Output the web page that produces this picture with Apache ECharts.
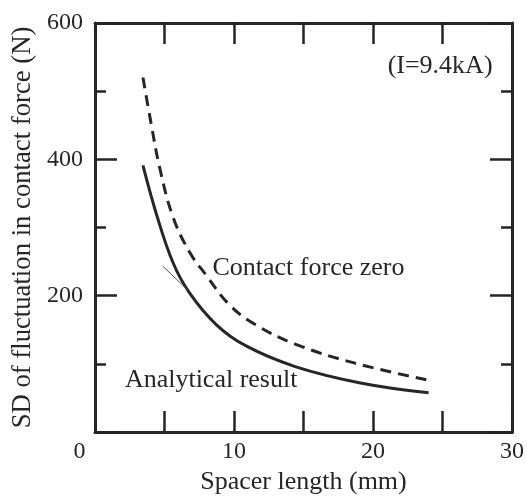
<!DOCTYPE html>
<html><head><meta charset="utf-8">
<script src="https://cdn.jsdelivr.net/npm/echarts@6/dist/echarts.min.js"></script>
<style>html,body{margin:0;padding:0;background:#fff}#c{width:527px;height:500px}</style>
</head><body><div id="c"></div>
<script>
var analyticalX = [3.45, 4.4, 5.6, 6.8, 8.7, 10.8, 14.4, 19.1, 24.0];
var analyticalY = [391, 321, 249, 204, 158, 127, 96, 72, 57.5];
var zeroX = [3.45, 4.05, 4.65, 5.6, 6.8, 8.0, 9.65, 11.5, 14.4, 18.7, 24.0];
var zeroY = [520, 451, 388, 316, 264, 230, 187, 158, 129, 101, 76];
var tangentX = [4.89, 6.68];
var tangentY = [243, 208];
var xTicks = [0, 10, 20, 30];
var yTicks = [200, 400, 600];
var labelZero = 'Contact force zero';
var labelAnalytical = 'Analytical result';
var labelCurrent = '(I=9.4kA)';

function pairs(xs, ys){ return xs.map(function(x,i){return [x, ys[i]];}); }
var ink = '#262626';
var font = 'Liberation Serif';
var chart = echarts.init(document.getElementById('c'));
var tickStyle = {color: ink, width: 2.5};
var lineSt = {show: true, onZero: false, lineStyle: {color: ink, width: 3}};
var option = {
  backgroundColor: '#fff',
  animation: false,
  grid: {left: 95, right: 13, top: 23, bottom: 61},
  xAxis: [{
    type: 'value', min: 0, max: 30, interval: 5, position: 'bottom',
    name: 'Spacer length (mm)', nameLocation: 'middle', nameGap: 37,
    nameTextStyle: {fontFamily: font, fontSize: 26, color: ink},
    axisLine: lineSt,
    axisTick: {show: true, inside: true, length: 21, lineStyle: tickStyle},
    splitLine: {show: false},
    axisLabel: {
      margin: 8, fontFamily: font, fontSize: 24, color: ink,
      formatter: function(v){
        if (xTicks.indexOf(v) < 0) return '';
        if (v === 0) return '{z|0}';
        return String(v);
      },
      rich: {z: {fontFamily: font, fontSize: 24, color: ink, padding: [0, 31, 0, 0]}}
    }
  }, {
    type: 'value', min: 0, max: 30, interval: 5, position: 'top',
    axisLine: lineSt,
    axisTick: {show: true, inside: true, length: 21, lineStyle: tickStyle},
    axisLabel: {show: false}, splitLine: {show: false}
  }],
  yAxis: [{
    type: 'value', min: 0, max: 600, interval: 200, position: 'left',
    name: 'SD of fluctuation in contact force (N)', nameLocation: 'middle', nameGap: 57,
    nameTextStyle: {fontFamily: font, fontSize: 26.7, color: ink},
    axisLine: lineSt,
    axisTick: {show: true, inside: true, length: 22, lineStyle: tickStyle},
    minorTick: {show: true, splitNumber: 2, length: 11, lineStyle: tickStyle},
    splitLine: {show: false}, minorSplitLine: {show: false},
    axisLabel: {
      margin: 12, fontFamily: font, fontSize: 24, color: ink,
      formatter: function(v){ return yTicks.indexOf(v) < 0 ? '' : String(v); }
    }
  }, {
    type: 'value', min: 0, max: 600, interval: 200, position: 'right',
    axisLine: lineSt,
    axisTick: {show: true, inside: true, length: 22, lineStyle: tickStyle},
    minorTick: {show: true, splitNumber: 2, length: 11, lineStyle: tickStyle},
    splitLine: {show: false}, minorSplitLine: {show: false},
    axisLabel: {show: false}
  }],
  series: [{
    type: 'line', data: pairs(analyticalX, analyticalY), smooth: 0.4, showSymbol: false,
    lineStyle: {color: ink, width: 3}
  }, {
    type: 'line', data: pairs(zeroX, zeroY), smooth: 0.4, showSymbol: false,
    lineStyle: {color: ink, width: 3, type: [11, 7]}
  }, {
    type: 'line', data: pairs(tangentX, tangentY), showSymbol: false,
    lineStyle: {color: '#555', width: 1}
  }]
};
chart.setOption(option);
function px(x, y){ return chart.convertToPixel({gridIndex: 0}, [x, y]); }
var pZero = px(8.45, 240), pAn = px(2.15, 76), pCur = px(28.6, 536);
chart.setOption({graphic: [
  {type: 'text', x: pZero[0], y: pZero[1], style: {text: labelZero, font: '26px "Liberation Serif"', fill: ink, textVerticalAlign: 'middle', textAlign: 'left'}},
  {type: 'text', x: pAn[0], y: pAn[1], style: {text: labelAnalytical, font: '26px "Liberation Serif"', fill: ink, textVerticalAlign: 'middle', textAlign: 'left'}},
  {type: 'text', x: pCur[0], y: pCur[1], style: {text: labelCurrent, font: '26px "Liberation Serif"', fill: ink, textVerticalAlign: 'middle', textAlign: 'right'}}
]});
</script></body></html>
